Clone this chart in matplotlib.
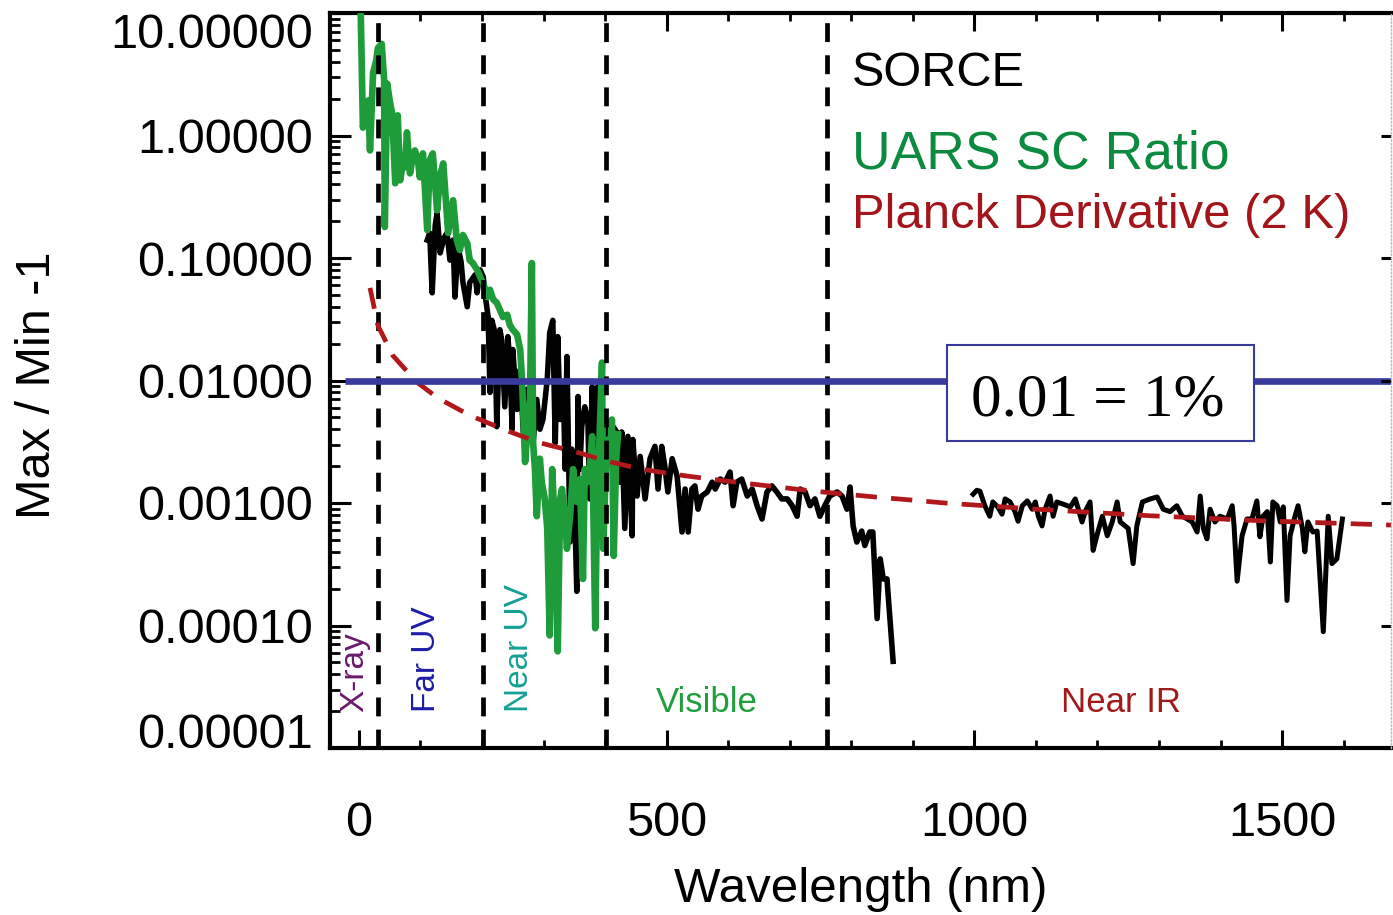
import numpy as np
import matplotlib
matplotlib.use("Agg")
import matplotlib.pyplot as plt
from matplotlib.ticker import (FixedLocator, FixedFormatter, MultipleLocator,
                               LogLocator, NullFormatter, NullLocator)
from matplotlib.patches import Rectangle

plt.rcParams['font.family'] = ['Liberation Sans', 'DejaVu Sans']

# ---------------- data ----------------
ytick_values = [1e-5, 1e-4, 1e-3, 1e-2, 1e-1, 1.0, 10.0]
ytick_labels = ['0.00001', '0.00010', '0.00100', '0.01000', '0.10000', '1.00000', '10.00000']

region_bounds = [31, 201, 401, 760]
threshold = 0.01
threshold_start = -23

# SORCE (black) UV / visible part
sorce_uv_nm = [111, 115, 119, 124, 127, 132, 138, 143, 148, 153, 156, 161, 166, 169, 176, 180,
               189, 192, 197, 202, 206, 210, 213, 216, 221, 224, 229, 232, 237, 242, 245, 249,
               250, 257, 262, 267, 273, 278, 283, 289, 294, 299, 306, 310, 315, 319, 323, 327,
               332, 335, 338, 343, 346, 351, 354, 356, 359, 362, 367, 372, 375, 379, 384, 387,
               388, 392, 397, 400, 403, 408, 413, 419, 424, 427, 432, 437, 444, 445, 452, 457,
               465, 473, 481, 486, 492, 497, 502, 509, 517, 525, 530, 535, 541, 546, 551, 557,
               566, 574, 579, 587, 595, 603, 608, 614, 622, 631, 639, 647, 655, 663, 671, 679,
               687, 696, 704, 712, 717, 725, 733, 741, 749, 757, 765, 777, 785, 793, 798, 803,
               809, 817, 822, 830, 835, 842, 847, 852, 858, 868]
sorce_uv_val = [0.140, 0.160, 0.052, 0.186, 0.232, 0.110, 0.145, 0.160, 0.096, 0.140, 0.048, 0.123,
                0.093, 0.063, 0.040, 0.063, 0.073, 0.052, 0.080, 0.070, 0.046, 0.033, 0.0080, 0.031,
                0.0246, 0.0042, 0.026, 0.0215, 0.0061, 0.0228, 0.0148, 0.0040, 0.0179, 0.0058,
                0.0123, 0.0038, 0.0085, 0.0048, 0.0031, 0.0070, 0.0040, 0.0048, 0.0102, 0.0246,
                0.031, 0.0031, 0.0228, 0.0048, 0.0096, 0.00189, 0.0157, 0.00048, 0.00275, 0.00074,
                0.00019, 0.0074, 0.00189, 0.0042, 0.0061, 0.0048, 0.00108, 0.0089, 0.000095, 0.0048,
                0.0089, 0.0031, 0.00148, 0.00189, 0.0046, 0.0035, 0.0042, 0.0038, 0.00148, 0.0038,
                0.00062, 0.0035, 0.00054, 0.0033, 0.00114, 0.0024, 0.00108, 0.0023, 0.0029, 0.0013,
                0.0029, 0.0020, 0.00123, 0.0023, 0.00166, 0.00058, 0.0013, 0.00058, 0.0013, 0.00138,
                0.00089, 0.00114, 0.00123, 0.00148, 0.0013, 0.00157, 0.00148, 0.00179, 0.00095,
                0.00148, 0.00157, 0.00114, 0.0013, 0.00095, 0.00074, 0.00123, 0.00138, 0.00123,
                0.00108, 0.00108, 0.00095, 0.00078, 0.0013, 0.00123, 0.00095, 0.00108, 0.00078,
                0.00095, 0.00114, 0.00123, 0.00114, 0.00089, 0.00135, 0.00065, 0.00048, 0.00059,
                0.00045, 0.00058, 0.00058, 0.000114, 0.00035, 0.00024, 0.00024, 0.000051]

# SORCE (black) near-IR part
sorce_ir_nm = [998, 1004, 1009, 1017, 1025, 1030, 1038, 1045, 1050, 1058, 1066, 1071, 1078, 1086,
               1094, 1099, 1104, 1110, 1115, 1123, 1128, 1134, 1144, 1156, 1164, 1169, 1175, 1180,
               1188, 1193, 1199, 1208, 1216, 1224, 1232, 1237, 1245, 1250, 1258, 1264, 1273, 1286,
               1297, 1307, 1318, 1329, 1338, 1346, 1354, 1362, 1367, 1372, 1378, 1383, 1391, 1399,
               1411, 1419, 1422, 1427, 1435, 1443, 1451, 1459, 1464, 1469, 1476, 1481, 1485, 1492,
               1497, 1502, 1508, 1513, 1521, 1526, 1533, 1537, 1542, 1550, 1557, 1567, 1575, 1581,
               1589, 1598]
sorce_ir_val = [0.00118, 0.00127, 0.00125, 0.00095, 0.00078, 0.00102, 0.00093, 0.00081, 0.00108,
                0.00102, 0.00085, 0.00071, 0.00095, 0.00104, 0.00089, 0.00102, 0.00078, 0.00065,
                0.00089, 0.00114, 0.00078, 0.00102, 0.00098, 0.00093, 0.00108, 0.00089, 0.00070,
                0.00085, 0.00102, 0.00041, 0.00054, 0.00078, 0.00054, 0.00070, 0.00102, 0.00070,
                0.00065, 0.00062, 0.00032, 0.00065, 0.00102, 0.00108, 0.00112, 0.00089, 0.00085,
                0.00095, 0.00078, 0.00074, 0.00070, 0.00058, 0.00114, 0.00062, 0.00051, 0.00089,
                0.00070, 0.00078, 0.00074, 0.00095, 0.00065, 0.00023, 0.00054, 0.00074, 0.00074,
                0.00104, 0.00053, 0.00078, 0.00085, 0.00033, 0.00102, 0.00095, 0.00070, 0.00093,
                0.00016, 0.00054, 0.00078, 0.00095, 0.00062, 0.00040, 0.00070, 0.00058, 0.00059,
                0.000089, 0.00078, 0.00032, 0.00035, 0.00074]

# UARS SC ratio (green)
uars_nm = [1.6, 3, 6.5, 11, 15, 18, 23, 28, 31, 37, 41, 42, 46, 50, 54, 59, 63, 67, 72, 75, 78,
           83, 88, 91, 96, 99, 104, 111, 115, 120, 127, 132, 137, 145, 153, 159, 164, 169, 176,
           180, 185, 192, 197, 203, 208, 213, 218, 224, 229, 234, 241, 245, 250, 257, 262, 265,
           270, 275, 278, 281, 283, 286, 289, 294, 297, 302, 306, 310, 314, 315, 319, 323, 327,
           330, 335, 338, 343, 348, 351, 354, 359, 364, 367, 371, 375, 379, 384, 387, 388, 392,
           395, 397, 401, 405, 408, 411, 414, 418, 421]
uars_val = [11.4, 9.8, 1.16, 1.60, 1.93, 0.755, 3.25, 4.07, 5.19, 5.60, 2.80, 0.179, 2.65, 1.93,
            1.51, 0.407, 1.46, 0.431, 0.626, 0.550, 1.06, 0.491, 0.688, 0.755, 0.626, 0.456, 0.714,
            0.169, 0.626, 0.714, 0.245, 0.473, 0.592, 0.160, 0.296, 0.140, 0.116, 0.154, 0.132,
            0.096, 0.091, 0.080, 0.070, 0.0603, 0.048, 0.055, 0.046, 0.0431, 0.0378, 0.033, 0.0344,
            0.0285, 0.026, 0.0237, 0.0179, 0.0102, 0.00216, 0.0048, 0.0070, 0.091, 0.0031, 0.00189,
            0.00078, 0.0023, 0.00148, 0.00108, 0.00062, 0.000083, 0.00189, 0.00148, 0.00051,
            0.0000615, 0.00108, 0.0013, 0.00074, 0.000423, 0.00078, 0.00189, 0.0013, 0.00102,
            0.00157, 0.00024, 0.00189, 0.00148, 0.00189, 0.0035, 0.000095, 0.00108, 0.0013, 0.0048,
            0.0140, 0.000423, 0.00189, 0.0033, 0.00216, 0.0048, 0.00037, 0.0023, 0.00364]

# Planck derivative (2 K), red dashed
planck_nm = [18, 31, 55, 94, 128, 180, 240, 294, 354, 403, 457, 510, 566, 622, 676, 733, 782,
             839, 895, 952, 1100, 1279, 1455, 1680]
planck_val = [0.057, 0.028, 0.016, 0.0097, 0.0072, 0.0052, 0.0039, 0.0031, 0.0026, 0.0022, 0.0019,
              0.00172, 0.00158, 0.00146, 0.00136, 0.00126, 0.00119, 0.00112, 0.00106, 0.00100,
              0.00089, 0.00079, 0.00072, 0.00066]

# ---------------- style ----------------
GREEN_LINE = '#1f9c3a'
GREEN_TEXT = '#0b8a40'
RED_LINE = '#b0181c'
RED_TEXT = '#a3141b'
BLUE = '#3a3a9c'

W, H = 1393, 915
fig = plt.figure(figsize=(W / 100, H / 100), dpi=100)
ax = fig.add_axes([330 / W, 1 - 748 / H, (1391 - 330) / W, (748 - 13) / H])
ax.set_yscale('log')
ax.set_xlim(-47, 1677)
ax.set_ylim(1e-5, 10)

# data
ax.plot(sorce_uv_nm, sorce_uv_val, color='black', lw=4.0, zorder=2)
ax.plot(sorce_ir_nm, sorce_ir_val, color='black', lw=3.6, zorder=2)
ax.plot(uars_nm, uars_val, color=GREEN_LINE, lw=4.8, zorder=3)
for b in region_bounds:
    ax.axvline(b, color='black', lw=3.4, linestyle=(0, (4.0, 2.8)), zorder=4)
ax.plot(planck_nm, planck_val, color=RED_LINE, lw=3.4, linestyle=(0, (4.5, 3.0)), zorder=5)
ax.hlines(threshold, threshold_start, 1800, color=BLUE, lw=4.8, zorder=6)

# threshold box
ax.add_patch(Rectangle((0.5815, 0.4171), 0.2893, 0.1318, transform=ax.transAxes,
                       facecolor='white', edgecolor=BLUE, lw=1.5, zorder=7))
ax.text(0.7238, 0.4524, '0.01 = 1%', transform=ax.transAxes, ha='center', va='baseline',
        fontsize=44, family=['Liberation Serif', 'DejaVu Serif'], color='black', zorder=8)

# legend-like texts
ax.text(0.492, 0.9008, 'SORCE', transform=ax.transAxes, fontsize=35, color='black', va='baseline')
ax.text(0.492, 0.789, 'UARS SC Ratio', transform=ax.transAxes, fontsize=38.5, color=GREEN_TEXT, va='baseline')
ax.text(0.492, 0.708, 'Planck Derivative (2 K)', transform=ax.transAxes, fontsize=35.3, color=RED_TEXT, va='baseline')

# region labels
ax.text(0.0236, 0.049, 'X-ray', transform=ax.transAxes, rotation=90, ha='center', va='bottom',
        fontsize=24, color='#6a1a6a')
ax.text(0.0914, 0.049, 'Far UV', transform=ax.transAxes, rotation=90, ha='center', va='bottom',
        fontsize=24, color='#1c1ca8')
ax.text(0.179, 0.049, 'Near UV', transform=ax.transAxes, rotation=90, ha='center', va='bottom',
        fontsize=24, color='#14a096')
ax.text(0.355, 0.049, 'Visible', transform=ax.transAxes, ha='center', va='baseline',
        fontsize=25, color='#1e9e3c')
ax.text(0.7455, 0.049, 'Near IR', transform=ax.transAxes, ha='center', va='baseline',
        fontsize=25, color='#a11a1a')

# ticks
ax.yaxis.set_major_locator(FixedLocator(ytick_values))
ax.yaxis.set_major_formatter(FixedFormatter(ytick_labels))
ax.yaxis.set_minor_locator(LogLocator(base=10, subs=np.arange(2, 10), numticks=30))
ax.yaxis.set_minor_formatter(NullFormatter())
ax.xaxis.set_major_locator(MultipleLocator(500))
ax.xaxis.set_minor_locator(MultipleLocator(100))
ax.tick_params(axis='y', which='major', direction='in', length=15, width=2.2,
               labelsize=35, pad=12, left=True, right=False)
ax.tick_params(axis='y', which='minor', direction='in', length=7, width=2.0,
               left=True, right=False)
ax.tick_params(axis='x', which='major', direction='in', length=13, width=2.2,
               labelsize=35, pad=38, top=True, bottom=True)
ax.tick_params(axis='x', which='minor', direction='in', length=6, width=2.0,
               top=True, bottom=True)

for s in ['left', 'top', 'bottom']:
    ax.spines[s].set_linewidth(3.0)
ax.spines['right'].set_visible(False)

ax.set_xlabel('Wavelength (nm)', fontsize=35.5, labelpad=15)
ax.set_ylabel('Max / Min -1', fontsize=35)
ax.yaxis.set_label_coords(-0.2545, 0.493)

# right-side ticks
axr = ax.twinx()
axr.set_yscale('log')
axr.set_ylim(ax.get_ylim())
axr.yaxis.set_major_locator(FixedLocator(ytick_values))
axr.yaxis.set_minor_locator(NullLocator())
axr.tick_params(axis='y', direction='in', length=7, width=2.2, labelright=False)
for s in ['left', 'top', 'bottom']:
    axr.spines[s].set_visible(False)
axr.spines['right'].set_linestyle(':')
axr.spines['right'].set_color('#bbbbbb')
axr.spines['right'].set_linewidth(1.0)

fig.canvas.draw()
ylabels = ax.get_yticklabels()
ylabels[0].set_verticalalignment('baseline')
ylabels[-1].set_verticalalignment('top')

fig.savefig('out.png', dpi=100)
